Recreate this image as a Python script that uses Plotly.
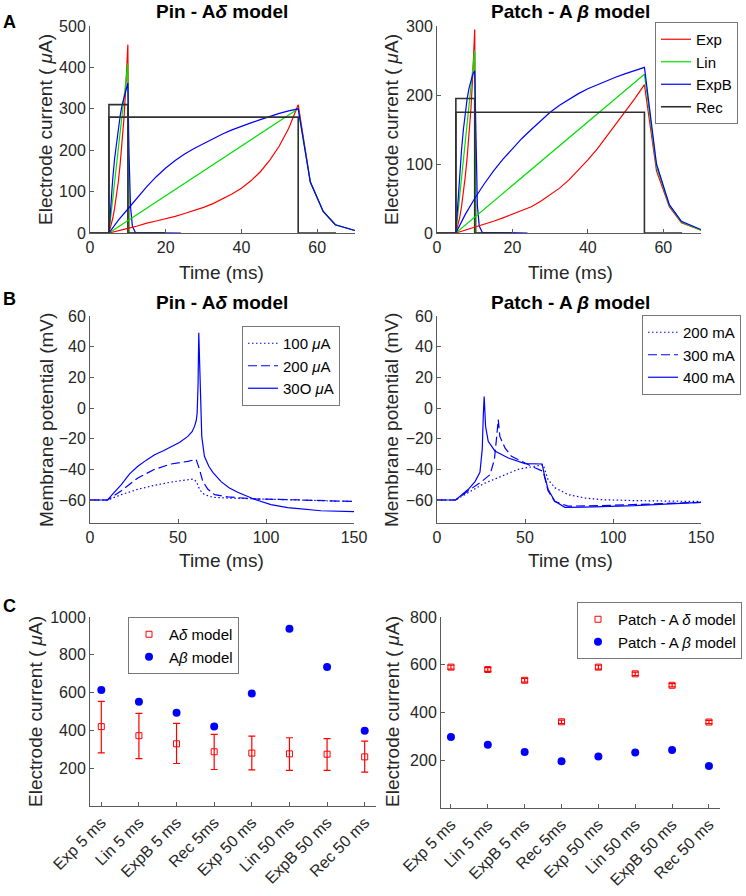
import plotly.graph_objects as go

W, H = 746, 896
FONT = "Liberation Sans, Arial, Helvetica, sans-serif"
TXT = "#262626"
AX = "#5a5a5a"

# ---------------- Panel A data (Pin - A delta) ----------------
pinA_exp5_t = [5, 5.5, 6, 6.5, 7, 7.5, 8, 8.5, 9, 9.5, 10, 10.3, 20]
pinA_exp5_v = [0, 15, 35, 60, 90, 125, 170, 220, 280, 360, 455, 0, 0]
pinA_lin5_t = [5, 10, 10.3, 20]
pinA_lin5_v = [0, 410, 0, 0]
pinA_expb5_t = [5, 5.5, 6, 6.5, 7, 7.5, 8, 8.5, 9, 9.5, 10, 10.3, 10.7, 11.2, 12, 24]
pinA_expb5_v = [0, 70, 130, 180, 220, 255, 285, 310, 330, 347, 362, 193, 64, 16, 1, 0]
pinA_rec5_t = [0, 5, 5, 10, 10, 20]
pinA_rec5_v = [0, 0, 310, 310, 0, 0]
pinA_exp50_t = [5, 7.5, 10, 12.5, 15, 17.5, 20, 22.5, 25, 27.5, 30, 32.5, 35, 37.5, 40, 42.5, 45, 47.5, 50, 52.5, 55,
                58.2, 61.6, 64.8, 70]
pinA_exp50_v = [0, 5, 11, 17, 24, 29, 34, 40, 47, 54, 62, 71, 82, 94, 108, 126, 148, 176, 210, 253, 310,
                123, 52, 20, 6]
pinA_lin50_t = [5, 55, 58.2, 61.6, 64.8, 70]
pinA_lin50_v = [0, 300, 123, 52, 20, 6]
pinA_expb50_t = [5, 7.5, 10, 12.5, 15, 17.5, 20, 22.5, 25, 27.5, 30, 32.5, 35, 37.5, 40, 42.5, 45, 47.5, 50, 52.5, 55,
                 58.2, 61.6, 64.8, 70]
pinA_expb50_v = [0, 31, 58, 86, 112, 136, 157, 175, 191, 204, 216, 228, 239, 249, 258, 266, 274, 282, 289, 295, 300,
                 123, 52, 20, 6]
pinA_rec50_t = [0, 5, 5, 55, 55, 65]
pinA_rec50_v = [0, 0, 280, 280, 0, 0]

# ---------------- Panel A data (Patch - A beta) ----------------
patA_exp5_t = [5, 5.5, 6, 6.5, 7, 7.5, 8, 8.5, 9, 9.5, 10, 10.3, 20]
patA_exp5_v = [0, 10, 22, 38, 58, 82, 110, 142, 180, 230, 295, 0, 0]
patA_lin5_t = [5, 10, 10.3, 20]
patA_lin5_v = [0, 265, 0, 0]
patA_expb5_t = [5, 5.5, 6, 6.5, 7, 7.5, 8, 8.5, 9, 9.5, 10, 10.3, 10.7, 11.2, 12, 24]
patA_expb5_v = [0, 45, 85, 120, 150, 175, 195, 210, 222, 230, 235, 125, 40, 10, 1, 0]
patA_rec5_t = [0, 5, 5, 10, 10, 20]
patA_rec5_v = [0, 0, 195, 195, 0, 0]
patA_exp50_t = [5, 7.5, 10, 12.5, 15, 17.5, 20, 22.5, 25, 27.5, 30, 32.5, 35, 37.5, 40, 42.5, 45, 47.5, 50, 52.5, 55,
                58.2, 61.6, 64.8, 70]
patA_exp50_v = [0, 4, 9, 13, 17, 22, 27, 32, 38, 46, 55, 65, 77, 91, 106, 122, 140, 158, 176, 195, 215,
                90, 38, 15, 4]
patA_lin50_t = [5, 55, 58.2, 61.6, 64.8, 70]
patA_lin50_v = [0, 230, 96, 40, 16, 4]
patA_expb50_t = [5, 7.5, 10, 12.5, 15, 17.5, 20, 22.5, 25, 27.5, 30, 32.5, 35, 37.5, 40, 42.5, 45, 47.5, 50, 52.5, 55,
                 58.2, 61.6, 64.8, 70]
patA_expb50_v = [0, 27, 50, 71, 90, 107, 122, 137, 150, 163, 175, 185, 194, 202, 209, 215, 221, 226, 231, 236, 240,
                 100, 41, 17, 5]
patA_rec50_t = [0, 5, 5, 55, 55, 65]
patA_rec50_v = [0, 0, 175, 175, 0, 0]

# ---------------- Panel B data ----------------
pinB_100_t = [0, 10, 17.8, 27.2, 36.7, 46.1, 55.6, 58.6, 60.5, 62.4, 65, 70, 80, 93.4, 120, 150]
pinB_100_v = [-60, -60, -56.5, -53, -50.4, -48.3, -46.8, -46.4, -48, -53.5, -56.5, -58.3, -58.8, -59.3, -60.2, -61]
pinB_200_t = [0, 10, 17.8, 27.2, 36.7, 46.1, 55.6, 60.3, 62.2, 64.1, 67, 70.8, 78.4, 93.4, 120, 150]
pinB_200_v = [-60, -60, -54, -45.6, -40, -36.5, -34.8, -33.5, -40, -48, -53, -56.5, -58, -59.3, -60, -61]
pinB_300_t = [0, 10, 13, 17.8, 22.5, 27.2, 32, 36.7, 41.4, 46.1, 50.8, 55.6, 58, 59.4, 60.4, 60.9, 61.4, 61.8,
              62.2, 62.6, 63.5, 65, 67.5, 69.8, 74.5, 79, 83.9, 93.4, 102.8, 112.3, 131.2, 150]
pinB_300_v = [-60, -60, -56, -50, -43, -38, -34, -30.5, -28, -25.4, -22.5, -18.5, -15.5, -12, -8, -3, 15, 49,
              30, 10, -18.5, -31.5, -38, -42, -48, -52, -55, -59.5, -63, -65, -67, -67.6]

patB_200_t = [0, 10.6, 27.2, 36.7, 46.1, 55.6, 60.3, 63.1, 67, 74.5, 84, 93.4, 112.3, 150]
patB_200_v = [-60, -60, -49, -44.6, -40, -38, -37, -46.7, -52, -56.5, -58.7, -59.8, -60.4, -61]
patB_300_t = [0, 10.6, 17.8, 25.3, 30.1, 32.6, 33.8, 34.8, 35.7, 38.6, 42.3, 50, 55.6, 60.3, 61.5, 63.1, 66.9, 74.5, 93.4, 150]
patB_300_v = [-60, -60, -54, -48, -43.5, -33.7, -20, -7.6, -18.5, -26, -31.5, -36, -39, -41.3, -46, -54, -61, -64, -63.7, -61.5]
patB_400_t = [0, 10.6, 17.8, 21.6, 24.4, 25.7, 26.3, 26.8, 27.6, 29.1, 32.9, 40.5, 50, 59.7, 61.2, 63.1, 66.9, 72.6, 84, 112.3, 150]
patB_400_v = [-60, -60, -53, -48, -42, -27, -5, 7.5, -12, -21.7, -28, -32.6, -36.3, -36.5, -44.6, -53, -60.7, -64.8, -64.6, -63.7, -61.5]

# ---------------- Panel C data ----------------
c_labels = ["Exp 5 ms", "Lin 5 ms", "ExpB 5 ms", "Rec 5ms", "Exp 50 ms", "Lin 50 ms", "ExpB 50 ms", "Rec 50 ms"]
c_pos = [1, 2, 3, 4, 5, 6, 7, 8]
pinC_delta_mean = [420, 372, 329, 287, 280, 276, 274, 260]
pinC_delta_plus = [134, 118, 108, 92, 90, 85, 82, 83]
pinC_delta_minus = [139, 121, 104, 94, 89, 87, 86, 81]
pinC_beta = [614, 552, 494, 420, 595, 938, 736, 398]
patC_delta_mean = [590, 580, 535, 361, 590, 562, 514, 360]
patC_delta_err = [8, 8, 8, 7, 8, 7, 7, 7]
patC_beta = [297, 265, 235, 196, 216, 232, 243, 176]

RED, GREEN, BLUE, BLACK = "#ff0000", "#00e000", "#0000ff", "#303030"


def dom_x(a, b):
    return [a / W, b / W]


def dom_y(top, bottom):
    return [1 - bottom / H, 1 - top / H]


fig = go.Figure()


def line(t, v, color, name, xa, ya, legend=None, show=False, width=1.2, dash="solid"):
    fig.add_trace(go.Scatter(x=t, y=v, mode="lines", name=name, legendgroup=name + xa,
                             showlegend=show, legend=legend,
                             line=dict(color=color, width=width, dash=dash),
                             xaxis=xa, yaxis=ya, hoverinfo="skip"))


# Panel A left
line(pinA_exp5_t, pinA_exp5_v, RED, "Exp", "x", "y")
line(pinA_lin5_t, pinA_lin5_v, GREEN, "Lin", "x", "y")
line(pinA_expb5_t, pinA_expb5_v, BLUE, "ExpB", "x", "y")
line(pinA_rec5_t, pinA_rec5_v, BLACK, "Rec", "x", "y", width=1.6)
line(pinA_exp50_t, pinA_exp50_v, RED, "Exp", "x", "y")
line(pinA_lin50_t, pinA_lin50_v, GREEN, "Lin", "x", "y")
line(pinA_expb50_t, pinA_expb50_v, BLUE, "ExpB", "x", "y")
line(pinA_rec50_t, pinA_rec50_v, BLACK, "Rec", "x", "y", width=1.6)

# Panel A right
line(patA_exp5_t, patA_exp5_v, RED, "Exp", "x2", "y2", legend="legend", show=True)
line(patA_lin5_t, patA_lin5_v, GREEN, "Lin", "x2", "y2", legend="legend", show=True)
line(patA_expb5_t, patA_expb5_v, BLUE, "ExpB", "x2", "y2", legend="legend", show=True)
line(patA_rec5_t, patA_rec5_v, BLACK, "Rec", "x2", "y2", legend="legend", show=True, width=1.6)
line(patA_exp50_t, patA_exp50_v, RED, "Exp", "x2", "y2")
line(patA_lin50_t, patA_lin50_v, GREEN, "Lin", "x2", "y2")
line(patA_expb50_t, patA_expb50_v, BLUE, "ExpB", "x2", "y2")
line(patA_rec50_t, patA_rec50_v, BLACK, "Rec", "x2", "y2", width=1.6)

# Panel B
DOT = "1.5px,2.5px"
DASH = "9px,4px"
line(pinB_100_t, pinB_100_v, BLUE, "100 <i>μ</i>A", "x3", "y3", legend="legend2", show=True, dash=DOT)
line(pinB_200_t, pinB_200_v, BLUE, "200 <i>μ</i>A", "x3", "y3", legend="legend2", show=True, dash=DASH)
line(pinB_300_t, pinB_300_v, BLUE, "30O <i>μ</i>A", "x3", "y3", legend="legend2", show=True)
line(patB_200_t, patB_200_v, BLUE, "200 mA", "x4", "y4", legend="legend3", show=True, dash=DOT)
line(patB_300_t, patB_300_v, BLUE, "300 mA", "x4", "y4", legend="legend3", show=True, dash=DASH)
line(patB_400_t, patB_400_v, BLUE, "400 mA", "x4", "y4", legend="legend3", show=True)

# Panel C left
fig.add_trace(go.Scatter(x=c_pos, y=pinC_delta_mean, mode="markers", name="A<i>δ</i> model",
                         legend="legend4",
                         marker=dict(symbol="square-open", size=6, color=RED, line=dict(width=1)),
                         error_y=dict(type="data", symmetric=False, array=pinC_delta_plus,
                                      arrayminus=pinC_delta_minus, color=RED, thickness=1.2, width=3.5),
                         xaxis="x5", yaxis="y5", hoverinfo="skip"))
fig.add_trace(go.Scatter(x=c_pos, y=pinC_beta, mode="markers", name="A<i>β</i> model",
                         legend="legend4",
                         marker=dict(symbol="circle", size=8, color=BLUE),
                         xaxis="x5", yaxis="y5", hoverinfo="skip"))

# Panel C right
fig.add_trace(go.Scatter(x=c_pos, y=patC_delta_mean, mode="markers", name="Patch - A <i>δ</i> model",
                         legend="legend5",
                         marker=dict(symbol="square-open", size=6, color=RED, line=dict(width=1)),
                         error_y=dict(type="data", array=patC_delta_err, color=RED, thickness=1.2, width=3.5),
                         xaxis="x6", yaxis="y6", hoverinfo="skip"))
fig.add_trace(go.Scatter(x=c_pos, y=patC_beta, mode="markers", name="Patch - A <i>β</i> model",
                         legend="legend5",
                         marker=dict(symbol="circle", size=8, color=BLUE),
                         xaxis="x6", yaxis="y6", hoverinfo="skip"))

axis_common = dict(showline=True, linecolor=AX, linewidth=1, ticks="inside", ticklen=4,
                   tickcolor=AX, showgrid=False, zeroline=False, mirror=False, automargin=False,
                   tickfont=dict(family=FONT, size=16, color=TXT))

layout_axes = {
    "xaxis": dict(domain=dom_x(90, 355), range=[0, 70], tickvals=[0, 20, 40, 60], anchor="y"),
    "yaxis": dict(domain=dom_y(26, 233), range=[0, 500], tickvals=[0, 100, 200, 300, 400, 500], anchor="x"),
    "xaxis2": dict(domain=dom_x(437, 701), range=[0, 70], tickvals=[0, 20, 40, 60], anchor="y2"),
    "yaxis2": dict(domain=dom_y(26, 233), range=[0, 300], tickvals=[0, 100, 200, 300], anchor="x2"),
    "xaxis3": dict(domain=dom_x(90, 354), range=[0, 150], tickvals=[0, 50, 100, 150], anchor="y3"),
    "yaxis3": dict(domain=dom_y(316, 523), range=[-75, 60], tickvals=[-60, -40, -20, 0, 20, 40, 60], anchor="x3"),
    "xaxis4": dict(domain=dom_x(437, 701), range=[0, 150], tickvals=[0, 50, 100, 150], anchor="y4"),
    "yaxis4": dict(domain=dom_y(316, 523), range=[-75, 60], tickvals=[-60, -40, -20, 0, 20, 40, 60], anchor="x4"),
    "xaxis5": dict(domain=dom_x(90, 376), range=[0.7, 8.3], tickvals=c_pos, ticktext=c_labels,
                   tickangle=-45, anchor="y5"),
    "yaxis5": dict(domain=dom_y(617, 806), range=[0, 1000], tickvals=[200, 400, 600, 800, 1000], anchor="x5"),
    "xaxis6": dict(domain=dom_x(441, 720), range=[0.73, 8.3], tickvals=c_pos, ticktext=c_labels,
                   tickangle=-45, anchor="y6"),
    "yaxis6": dict(domain=dom_y(617, 808), range=[0, 800], tickvals=[200, 400, 600, 800], anchor="x6"),
}
for k, v in layout_axes.items():
    d = dict(axis_common)
    d.update(v)
    layout_axes[k] = d

legend_common = dict(bgcolor="white", bordercolor="#777", borderwidth=1,
                     font=dict(family=FONT, size=15, color="black"),
                     xanchor="left", yanchor="top", itemwidth=30, tracegroupgap=0)


def leg(x, y):
    d = dict(legend_common)
    d.update(x=x / W, y=1 - y / H)
    return d


annotations = []


def ann(text, x, y, size=14, bold=False, angle=0, color=TXT):
    annotations.append(dict(text=("<b>%s</b>" % text) if bold else text, x=x / W, y=1 - y / H,
                            xref="paper", yref="paper", showarrow=False, xanchor="center",
                            yanchor="middle", textangle=angle,
                            font=dict(family=FONT, size=size, color=color)))


# titles
ann("Pin - A<i>δ</i> model", 222, 12, size=19, bold=True, color="black")
ann("Patch - A <i>β</i> model", 570, 12, size=19, bold=True, color="black")
ann("Pin - A<i>δ</i> model", 222, 303, size=19, bold=True, color="black")
ann("Patch - A <i>β</i> model", 570, 303, size=19, bold=True, color="black")
# panel letters
ann("A", 9, 22, size=18, bold=True, color="black")
ann("B", 9, 299, size=18, bold=True, color="black")
ann("C", 9, 606, size=18, bold=True, color="black")
# axis titles
ann("Time (ms)", 222, 272, size=19)
ann("Time (ms)", 570, 272, size=19)
ann("Time (ms)", 222, 560, size=19)
ann("Time (ms)", 570, 560, size=19)
ann("Electrode current ( <i>μ</i>A)", 45, 130, size=19, angle=-90)
ann("Electrode current ( <i>μ</i>A)", 391, 130, size=19, angle=-90)
ann("Membrane potential (mV)", 46, 420, size=19, angle=-90)
ann("Membrane potential (mV)", 391, 420, size=19, angle=-90)
ann("Electrode current ( <i>μ</i>A)", 35, 712, size=19, angle=-90)
ann("Electrode current ( <i>μ</i>A)", 392, 712, size=19, angle=-90)

fig.update_layout(
    width=W, height=H, margin=dict(l=0, r=0, t=0, b=0, autoexpand=False),
    paper_bgcolor="white", plot_bgcolor="white",
    font=dict(family=FONT, size=14, color=TXT),
    showlegend=True,
    legend=leg(655, 22),
    legend2=leg(242, 326),
    legend3=leg(642, 315),
    legend4=leg(128, 617),
    legend5=leg(577, 602),
    annotations=annotations,
    **layout_axes,
)

fig.write_html("out.html", config={"displayModeBar": False},
               post_script="document.body.style.margin='0px';document.body.style.overflow='hidden';")
